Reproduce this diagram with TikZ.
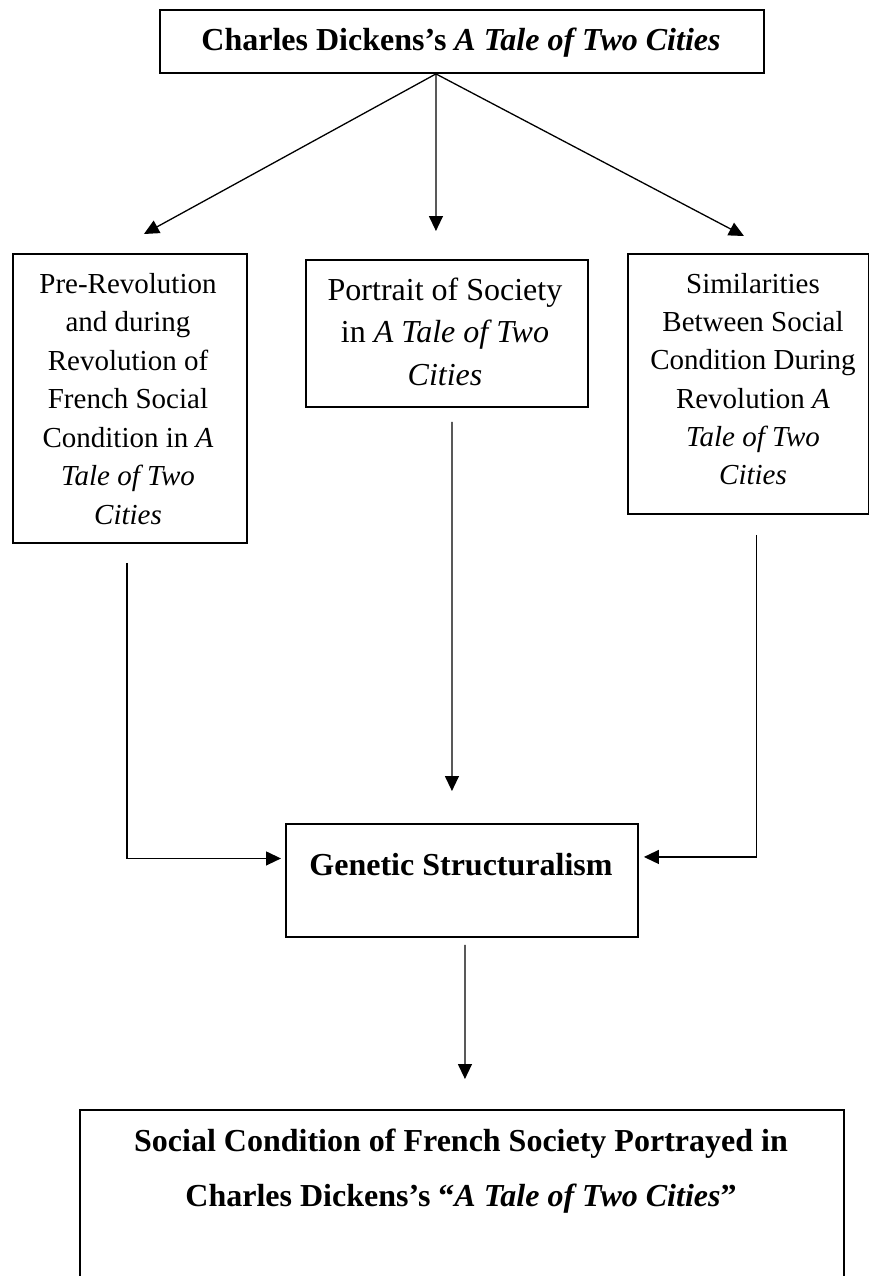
\documentclass[tikz,border=0pt]{standalone}
\usepackage{fontspec}
\setmainfont{Liberation Serif}
\usetikzlibrary{arrows.meta,calc}
\begin{document}
\begin{tikzpicture}[x=1bp,y=-1bp,
  box/.style={draw, line width=1.9bp, inner sep=0pt, anchor=north west},
  conn/.style={line width=1.3bp, -{Triangle[length=15bp,width=14bp]}},
  txt/.style={anchor=base, inner sep=0pt, align=center},
  big/.style={font=\fontsize{32bp}{42.5bp}\selectfont},
  small/.style={font=\fontsize{29bp}{38.5bp}\selectfont}]
\path[use as bounding box, clip] (0,0) rectangle (870,1276);
\fill[white] (0,0) rectangle (870,1276);

% boxes
\node[box, minimum width=604bp, minimum height=63bp]  (top) at (159,9) {};
\node[box, minimum width=234bp, minimum height=289bp] (pre) at (12,253) {};
\node[box, minimum width=282bp, minimum height=147bp] (por) at (305,259) {};
\node[box, minimum width=240.5bp, minimum height=260bp] (sim) at (627,253) {};
\node[box, minimum width=352bp, minimum height=113bp] (gen) at (285,823) {};
\node[box, minimum width=764bp, minimum height=250bp] (fin) at (79,1109) {};

% texts
\node[txt, big] (toptext) at (461,50) {\bfseries Charles Dickens’s \textit{A Tale of Two Cities}};
\node[txt, small] (pretext) at (128,293) {\parbox[t]{230bp}{\centering Pre-Revolution\\and during\\Revolution of\\French Social\\Condition in \textit{A}\\\textit{Tale of Two}\\\textit{Cities}}};
\node[txt, big] (portext) at (445,300) {\parbox[t]{280bp}{\centering Portrait of Society\\in \textit{A Tale of Two}\\\textit{Cities}}};
\node[txt, small] (simtext) at (753,293.3) {\parbox[t]{250bp}{\fontsize{29bp}{38.3bp}\selectfont\centering Similarities\\Between Social\\Condition During\\Revolution \textit{A}\\\textit{Tale of Two}\\\textit{Cities}}};
\node[txt, big] (gentext) at (461,875) {\bfseries Genetic Structuralism};
\node[txt, big] (fintext) at (461,1151) {\parbox[t]{760bp}{\fontsize{32bp}{55bp}\selectfont\bfseries\centering Social Condition of French Society Portrayed in\\Charles Dickens’s “\textit{A Tale of Two Cities}”}};

% connectors
\draw[conn] ($(top.south)+(-26,0)$) -- ($(pre.north)+(14,-19)$);
\draw[conn] ($(top.south)+(-26,0)$) -- ($(por.north)+(-11,-28)$);
\draw[conn] ($(top.south)+(-26,0)$) -- ($(sim.north)+(-4.25,-17)$);
\draw[conn] ($(pre.south)+(-3,19)$) |- ($(gen.west)+(-4,-22)$);
\draw[conn] ($(por.south)+(5,14)$) -- ($(gen.north)+(-10,-32)$);
\draw[conn] ($(sim.south)+(8,20)$) |- ($(gen.east)+(5,-23.5)$);
\draw[conn] ($(gen.south)+(3,7)$) -- ($(fin.north)+(3,-30)$);
\end{tikzpicture}
\end{document}
